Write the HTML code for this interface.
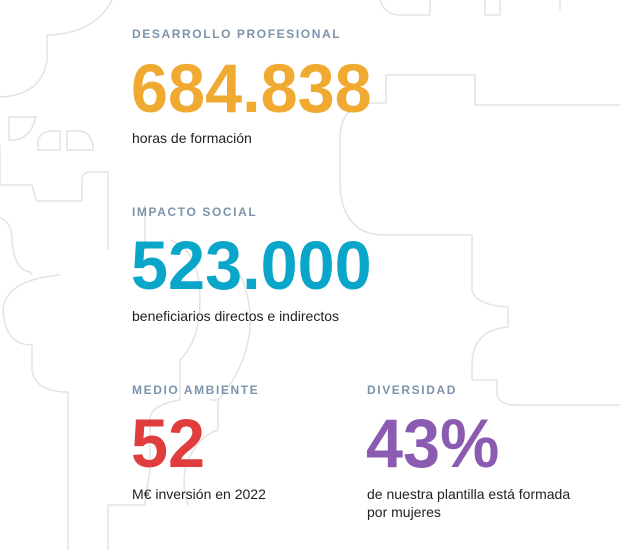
<!DOCTYPE html>
<html><head><meta charset="utf-8"><style>
html,body{margin:0;padding:0;background:#fff;}
#root{position:relative;width:620px;height:550px;overflow:hidden;font-family:"Liberation Sans",sans-serif;}
svg.bg{position:absolute;left:0;top:0;}
.t{position:absolute;white-space:nowrap;}
.lab{font-size:12px;font-weight:bold;letter-spacing:1.6px;color:#7d93ab;}
.num{font-size:69px;font-weight:bold;letter-spacing:0;line-height:1;transform-origin:0 0;transform:scaleX(0.965);}
.desc{font-size:14px;color:#222;line-height:18px;}
</style></head><body>
<div id="root">
<svg class="bg" width="620" height="550" fill="none" stroke="#e3e3e3" stroke-width="1.5">
<path d="M112,0 Q95,33 50,35 L47,35 L47,60 Q42,95 0,97"/>
<path d="M9,117 L36,117 Q30,140 12,140 L9,140 Z"/>
<path d="M38,150 L38,140 Q42,131 52,131 L60,131 L60,150 Z"/>
<path d="M67,150 L67,131 L80,131 Q93,133 93,150 Z"/>
<path d="M0,145 L0,185 L32,185 Q36,200 37,201 L82,201 L82,180 Q82,172 90,172 L108,172 L108,250"/>
<path d="M0,218 Q12,222 12,240 Q14,270 30,272 L32,275"/>
<path d="M145,250 L145,205"/>
<path d="M170,240 Q200,250 200,300 Q200,340 180,360 L180,400 Q150,405 150,420 L150,470 Q145,500 145,505 L108,505 L108,550"/>
<path d="M60,275 Q5,280 3,310 Q5,345 32,345 L32,370 Q35,392 68,392 L68,550"/>
<path d="M210,400 Q215,400 218,400 L218,430 Q200,435 188,460 Q180,480 188,505"/>
<path d="M240,275 Q252,300 250,330 Q245,370 218,400"/>
<path d="M380,0 Q385,15 400,15 L430,15 L430,0"/>
<path d="M485,0 L485,15 L500,15 L500,0"/>
<path d="M620,105 L475,105 L475,75 L386,75 L386,103 L370,103 Q340,105 340,140 L340,180 Q340,235 385,235 L472,235 L472,290 Q475,305 508,307 L508,327 Q472,330 472,365 L472,380 Q475,380 497,380 L497,395 Q500,405 515,405 L620,405"/>
<path d="M560,0 L560,10"/>
</svg>

<div class="t lab" style="left:132px;top:27px;">DESARROLLO PROFESIONAL</div>
<div class="t num" style="left:131px;top:54px;color:#f0aa32;">684.838</div>
<div class="t desc" style="left:132px;top:129px;">horas de formación</div>

<div class="t lab" style="left:132px;top:205px;">IMPACTO SOCIAL</div>
<div class="t num" style="left:131px;top:231px;color:#0aa6c9;">523.000</div>
<div class="t desc" style="left:132px;top:307px;">beneficiarios directos e indirectos</div>

<div class="t lab" style="left:132px;top:383px;">MEDIO AMBIENTE</div>
<div class="t num" style="left:131px;top:409px;color:#e03d3f;">52</div>
<div class="t desc" style="left:132px;top:485px;">M€ inversión en 2022</div>

<div class="t lab" style="left:367px;top:383px;">DIVERSIDAD</div>
<div class="t num" style="left:366px;top:409px;color:#8a5bb1;">43%</div>
<div class="t desc" style="left:367px;top:485px;">de nuestra plantilla está formada<br>por mujeres</div>
</div>
</body></html>
